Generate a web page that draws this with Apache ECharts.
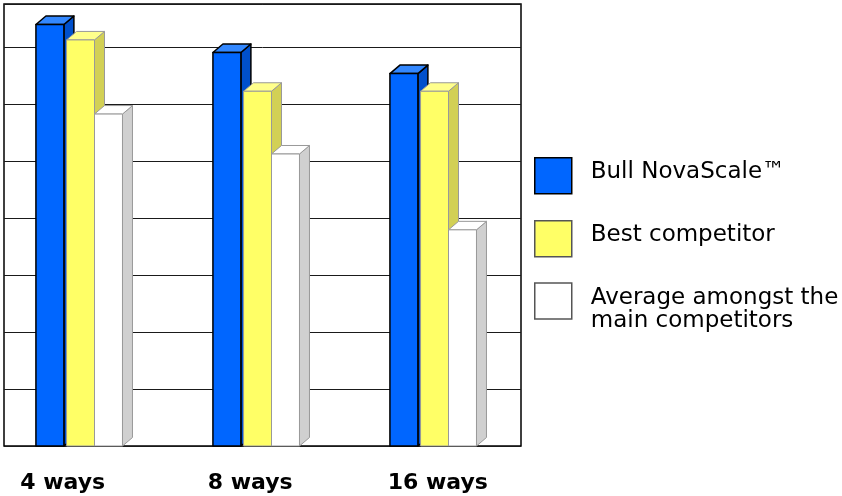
<!DOCTYPE html>
<html>
<head>
<meta charset="utf-8">
<script src="https://cdn.jsdelivr.net/npm/echarts@6/dist/echarts.min.js"></script>
<style>
  html, body { margin: 0; padding: 0; background: #fff; }
  #chart { width: 842px; height: 496px; }
</style>
</head>
<body>
<div id="chart"></div>
<script>
// ── données ──
const categories = ['4 ways', '8 ways', '16 ways'];
const seriesNames = ['Bull NovaScale™', 'Best competitor', 'Average amongst the\nmain competitors'];
const bullValues  = [7.39, 6.90, 6.53];
const bestValues  = [7.12, 6.22, 6.22];
const avgValues   = [5.82, 5.12, 3.79];

// ── style des barres "3D" ──
// off = bord gauche de la face avant, en fraction de la largeur de catégorie
const FRONT_W = 0.158;
const DX = 10, DY = 8.5;
const styles = [
  { off: -0.249, front: '#0066FF', top: '#3388FF', side: '#0050CC', stroke: '#000000', lw: 1.5, legBorder: '#000' },
  { off: -0.076, front: '#FFFF66', top: '#FFFF8C', side: '#D2D055', stroke: '#999999', lw: 1,   legBorder: '#555' },
  { off:  0.082, front: '#FFFFFF', top: '#FFFFFF', side: '#D0D0D0', stroke: '#999999', lw: 1,   legBorder: '#555' }
];

const mkRender = function (k) {
  const st = styles[k];
  return function (params, api) {
    const p    = api.coord([api.value(0), api.value(1)]);
    const base = api.coord([api.value(0), 0]);
    const bw   = api.size([1, 0])[0];
    const x0 = p[0] + bw * st.off, x1 = x0 + bw * FRONT_W;
    const y0 = p[1], y1 = base[1];
    const line = { stroke: st.stroke, lineWidth: st.lw, lineJoin: 'round' };
    return {
      type: 'group',
      children: [
        { type: 'polygon',
          shape: { points: [[x1, y0], [x1 + DX, y0 - DY], [x1 + DX, y1 - DY], [x1, y1]] },
          style: Object.assign({ fill: st.side }, line) },
        { type: 'polygon',
          shape: { points: [[x0, y0], [x0 + DX, y0 - DY], [x1 + DX, y0 - DY], [x1, y0]] },
          style: Object.assign({ fill: st.top }, line) },
        { type: 'rect',
          shape: { x: x0, y: y0, width: x1 - x0, height: y1 - y0 },
          style: Object.assign({ fill: st.front }, line) }
      ]
    };
  };
};

const toData = arr => arr.map((v, i) => [i, v]);
const allValues = [bullValues, bestValues, avgValues];

const chart = echarts.init(document.getElementById('chart'), null, { renderer: 'canvas' });

const Y_MAX = 7.75;

// une légende par entrée pour caler chaque ligne comme l'original ;
// une ligne vide (style g/h) décale le texte par rapport au carré
const legTops = [157, 220, 277.5];
const legFmt = [
  n => '{t|' + n + '}\n{g| }',
  n => '{t|' + n + '}\n{g| }',
  n => '{h| }\n' + n.split('\n').map(s => '{t|' + s + '}').join('\n')
];
const textRich = {
  t: { fontFamily: 'DejaVu Sans', fontSize: 23, lineHeight: 23, color: '#000' },
  g: { fontSize: 1, lineHeight: 7 },
  h: { fontSize: 1, lineHeight: 17 }
};
const mkLegend = (k) => ({
  orient: 'vertical',
  left: 534, top: legTops[k], padding: 0,
  itemWidth: 37, itemHeight: 36,
  selectedMode: false,
  icon: 'rect',
  formatter: legFmt[k],
  textStyle: { fontFamily: 'DejaVu Sans', fontSize: 23, color: '#000', padding: [0, 0, 0, 14], rich: textRich },
  data: [{ name: seriesNames[k], itemStyle: { color: styles[k].front, borderColor: styles[k].legBorder, borderWidth: 1.5 } }]
});

chart.setOption({
  backgroundColor: '#ffffff',
  animation: false,
  grid: [
    // barres
    { left: -8.5, top: 4, width: 531, height: 442, outerBoundsMode: 'none' },
    // cadre + quadrillage
    { left: 4, top: 4, width: 517, height: 442, show: true, borderColor: '#000', borderWidth: 1.5,
      backgroundColor: 'transparent', outerBoundsMode: 'none' },
    // libellés des catégories
    { left: -31, top: 4, width: 562.5, height: 442, outerBoundsMode: 'none' }
  ],
  xAxis: [
    { gridIndex: 0, type: 'category', data: categories, show: false },
    { gridIndex: 1, type: 'value', show: false },
    { gridIndex: 2, type: 'category', data: categories,
      axisLine: { show: false }, axisTick: { show: false },
      axisLabel: { margin: 26, color: '#000', fontFamily: 'DejaVu Sans', fontWeight: 'bold', fontSize: 22 } }
  ],
  yAxis: [
    { gridIndex: 0, type: 'value', min: 0, max: Y_MAX, show: false },
    { gridIndex: 1, type: 'value', min: 0, max: Y_MAX, interval: 1,
      axisLine: { show: false }, axisTick: { show: false }, axisLabel: { show: false },
      splitLine: { show: true, lineStyle: { color: '#1a1a1a', width: 1 } } },
    { gridIndex: 2, type: 'value', min: 0, max: Y_MAX, show: false }
  ],
  legend: [mkLegend(0), mkLegend(1), mkLegend(2)],
  series: allValues.map(function (vals, k) {
    return {
      type: 'custom',
      name: seriesNames[k],
      xAxisIndex: 0, yAxisIndex: 0,
      itemStyle: { color: styles[k].front },
      encode: { x: 0, y: 1 },
      renderItem: mkRender(k),
      data: toData(vals)
    };
  })
});
</script>
</body>
</html>
